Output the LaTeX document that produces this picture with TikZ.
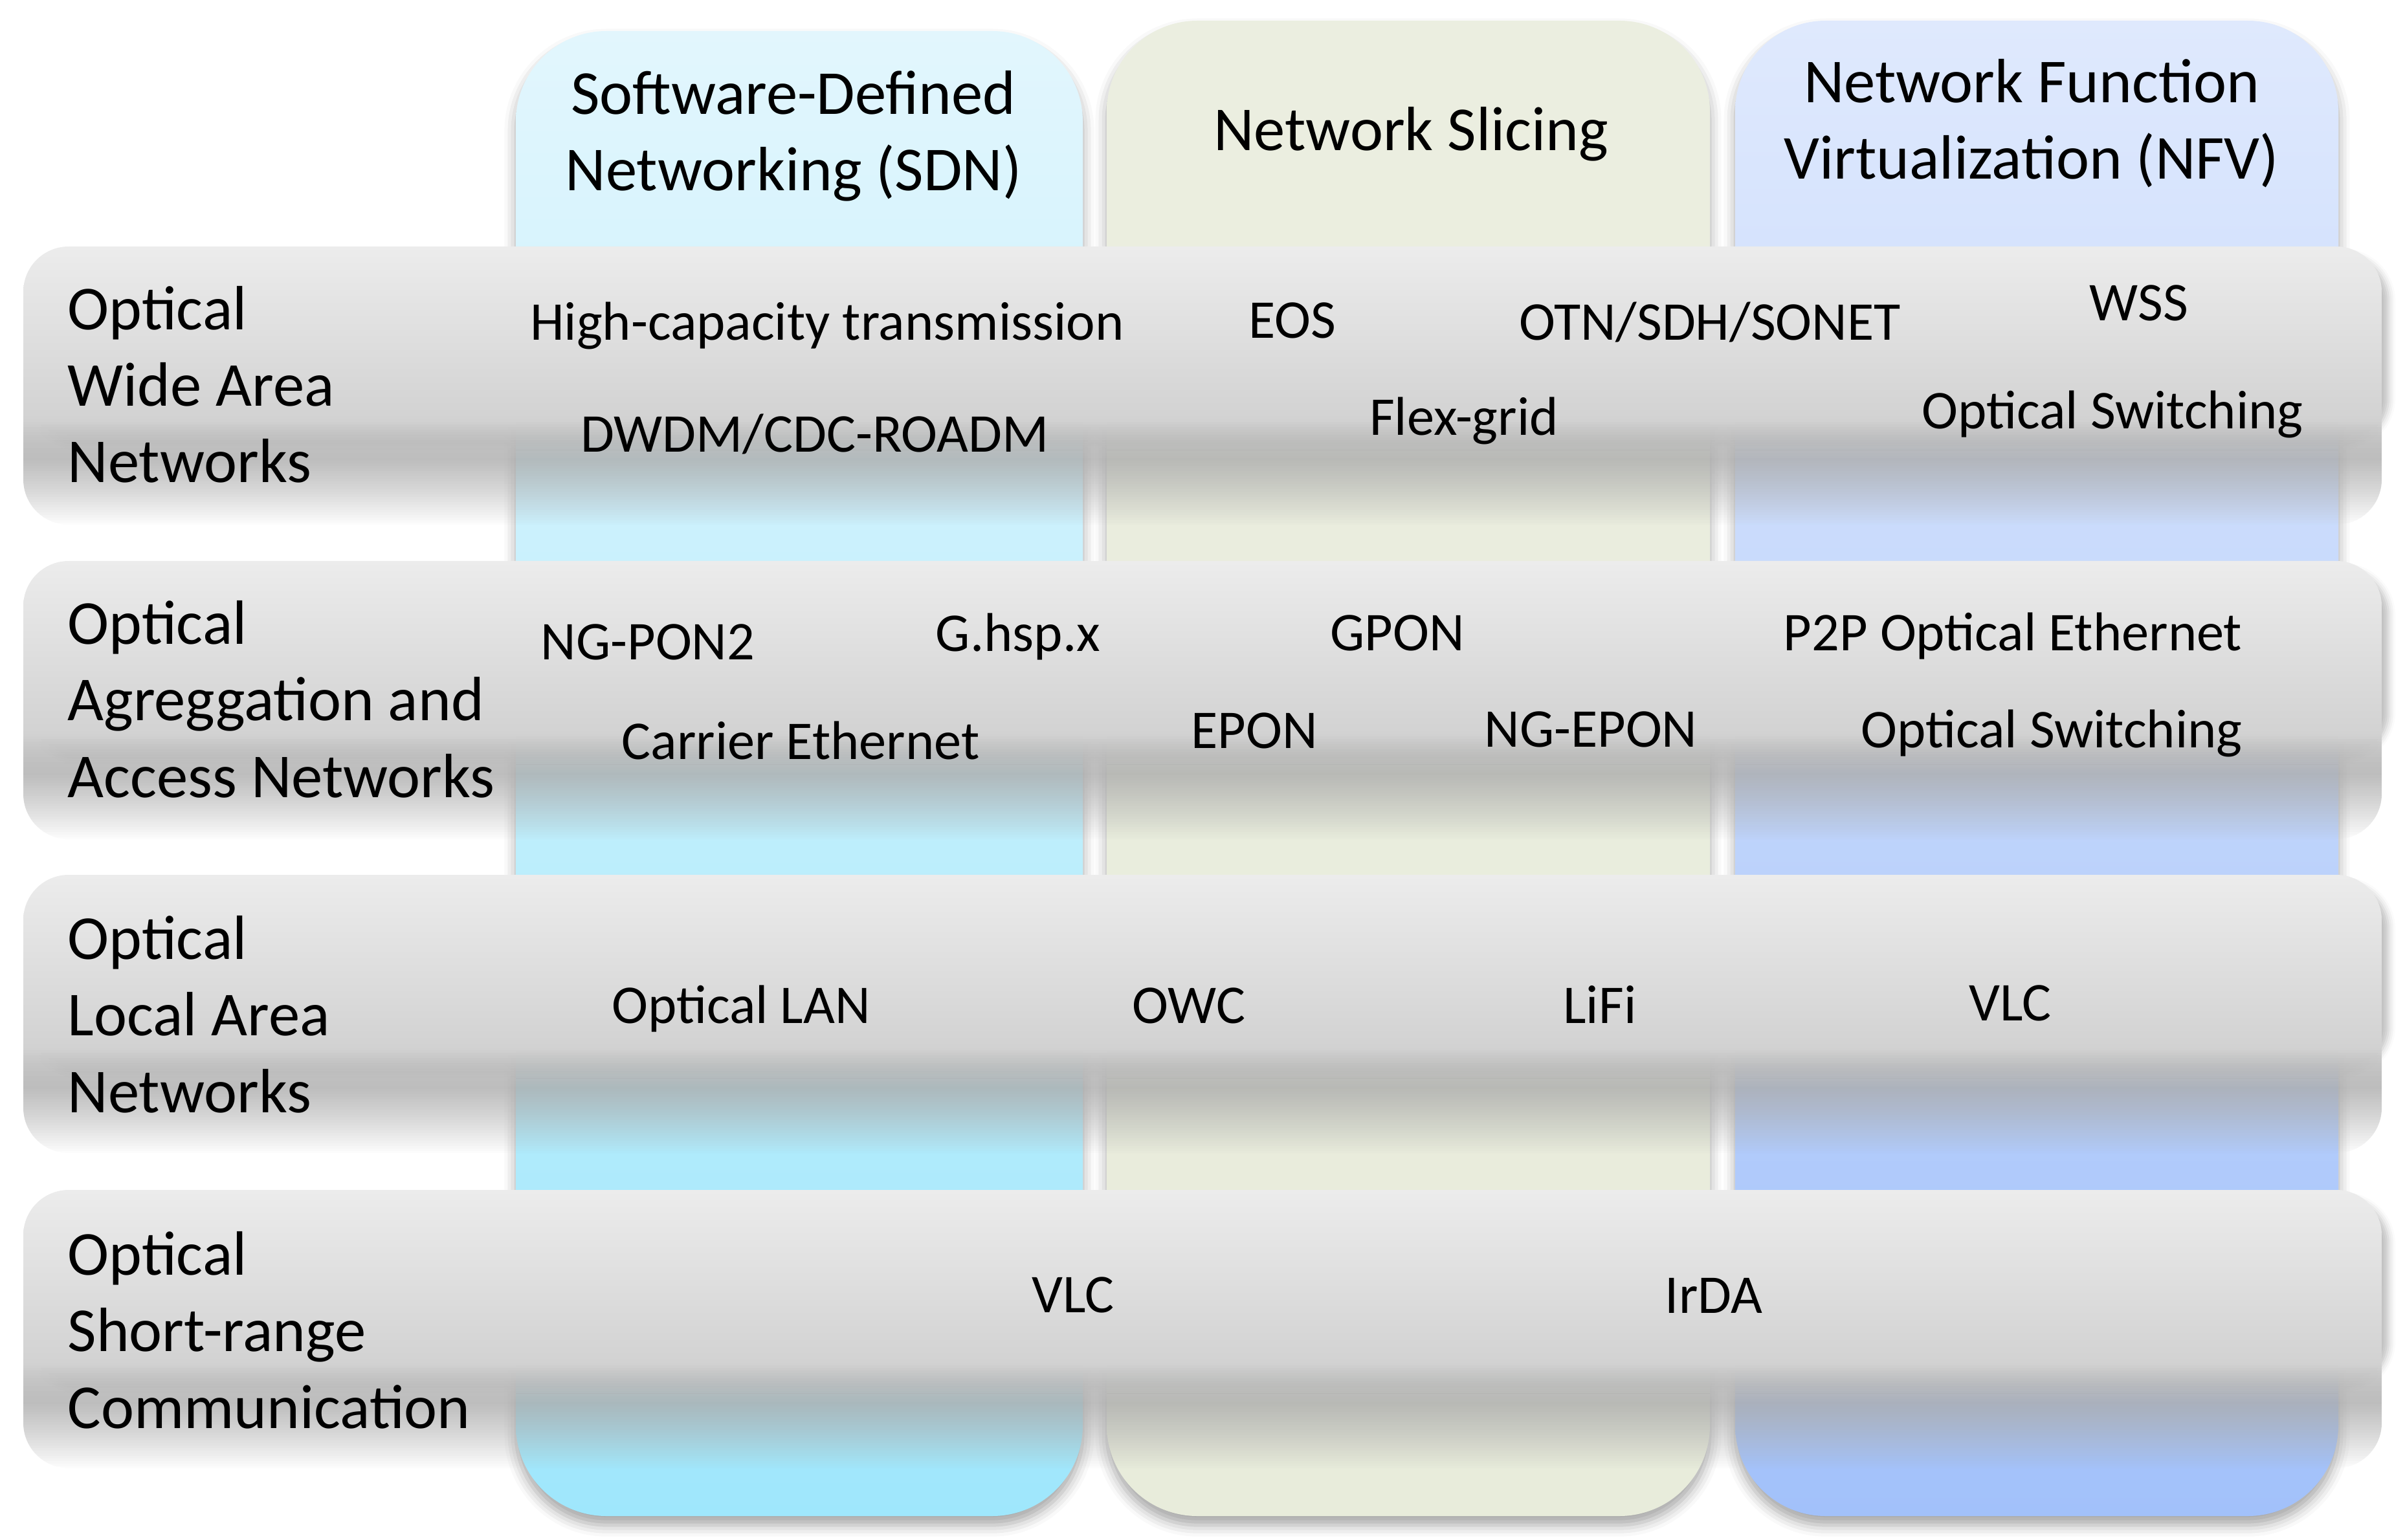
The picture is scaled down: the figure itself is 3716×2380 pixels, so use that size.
\documentclass[tikz,border=0pt]{standalone}
\usepackage{fontspec}
\setmainfont{Carlito}
\usetikzlibrary{shadows.blur}

\definecolor{sdntop}{HTML}{E2F6FD}
\definecolor{sdnbot}{HTML}{9FE7FC}
\definecolor{slctop}{HTML}{EBEEE0}
\definecolor{slcbot}{HTML}{E8ECDB}
\definecolor{nfvtop}{HTML}{DFE9FD}
\definecolor{nfvbot}{HTML}{A2C1FA}
\definecolor{bandtop}{HTML}{ECECEC}
\definecolor{bandmid}{HTML}{D2D2D2}

\tikzset{
  col/.style={rounded corners=1.4cm, blur shadow={shadow xshift=0pt, shadow yshift=-4pt, shadow blur radius=5pt, shadow opacity=35}},
  bandshadow/.style={rounded corners=0.7cm, blur shadow={shadow xshift=3pt, shadow yshift=-4pt, shadow blur radius=3pt, shadow opacity=25}},
  hdr/.style={font=\fontsize{27.5}{33.6}\selectfont, align=center, inner sep=0pt, anchor=base},
  lbl/.style={font=\fontsize{27.5}{33.6}\selectfont, align=left, inner sep=0pt, anchor=base west},
  item/.style={font=\fontsize{24}{29}\selectfont, inner sep=0pt, anchor=base},
}

\begin{document}
\begin{tikzpicture}[x=0.01cm, y=-0.01cm]
  \useasboundingbox (0,0) rectangle (3716,2380);

  \shade[col, top color=sdntop, bottom color=sdnbot] (797,48) rectangle (1673,2343);
  \shade[col, top color=slctop, bottom color=slcbot] (1710,32) rectangle (2642,2343);
  \shade[col, top color=nfvtop, bottom color=nfvbot] (2681,32) rectangle (3613,2343);

  \foreach \t in {381,867,1352,1839}{
    \path[bandshadow] (36,\t) rectangle (3680,\t+290);
    \begin{scope}
      \clip[rounded corners=0.7cm] (36,\t) rectangle (3680,\t+430);
      \shade[top color=bandtop, bottom color=bandmid] (36,\t) rectangle (3680,\t+267);
      \foreach \i in {0,...,40}{
        \pgfmathsetmacro\u{\i/41}
        \pgfmathsetmacro\a{1-\u*sqrt(\u)}
        \pgfmathsetmacro\k{min(33,18+15*\u/0.37)}
        \fill[black!\k, fill opacity=\a] (36,\t+267+4*\i) rectangle (3680,\t+271+4*\i);
      }
    \end{scope}
  }

  \node[hdr] (sdn) at (1226,295) {Software-Defined\\Networking (SDN)};
  \node[hdr] (slicing) at (2180,233) {Network Slicing};
  \node[hdr] (nfv) at (3139,277) {Network Function\\Virtualization (NFV)};

  \node[lbl] (wan) at (104,746) {Optical\\Wide Area\\Networks};
  \node[lbl] (access) at (104,1232) {Optical\\Agreggation and\\Access Networks};
  \node[lbl] (lan) at (104,1719) {Optical\\Local Area\\Networks};
  \node[lbl] (short) at (104,2207) {Optical\\Short-range\\Communication};

  \node[item] (hct) at (1278,526) {High-capacity transmission};
  \node[item] (dwdm) at (1259,699) {DWDM/CDC-ROADM};
  \node[item] (eos) at (1997,523) {EOS};
  \node[item] (otn) at (2642,526) {OTN/SDH/SONET};
  \node[item] (wss) at (3305,496) {WSS};
  \node[item] (flex) at (2262,673) {Flex-grid};
  \node[item] (oswan) at (3264,663) {Optical Switching};

  \node[item] (ngpon) at (1001,1019) {NG-PON2};
  \node[item] (ghsp) at (1573,1007) {G.hsp.x};
  \node[item] (gpon) at (2159,1005) {GPON};
  \node[item] (p2p) at (3110,1006) {P2P Optical Ethernet};
  \node[item] (carrier) at (1237,1173) {Carrier Ethernet};
  \node[item] (epon) at (1938,1156) {EPON};
  \node[item] (ngepon) at (2458,1154) {NG-EPON};
  \node[item] (osacc) at (3170,1155) {Optical Switching};

  \node[item] (olan) at (1145,1581) {Optical LAN};
  \node[item] (owc) at (1837,1581) {OWC};
  \node[item] (lifi) at (2472,1581) {LiFi};
  \node[item] (vlclan) at (3106,1577) {VLC};

  \node[item] (vlc) at (1658,2028) {VLC};
  \node[item] (irda) at (2648,2029) {IrDA};
\end{tikzpicture}
\end{document}
